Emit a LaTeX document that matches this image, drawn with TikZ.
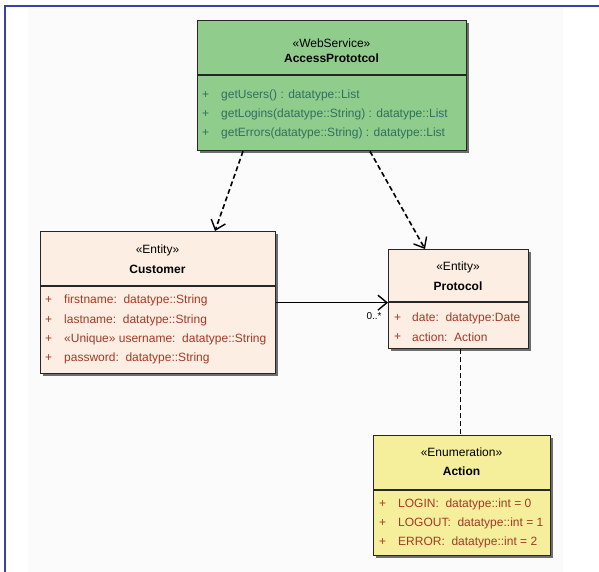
\documentclass[tikz,border=0pt]{standalone}
\usepackage{fontspec}
\setmainfont{Liberation Sans}
\usetikzlibrary{arrows.meta,calc}
\definecolor{frameblue}{HTML}{3B3FA8}
\definecolor{wsgreen}{HTML}{90CD8C}
\definecolor{entpeach}{HTML}{FCEEE2}
\definecolor{enumyellow}{HTML}{F5EF9C}
\definecolor{wstext}{HTML}{2F6F62}
\definecolor{enttext}{HTML}{A33A26}
\definecolor{shadowgray}{HTML}{6E6E6E}
\tikzset{
  umlbox/.style={draw=black!85, line width=1.3pt, anchor=north west, inner sep=0pt},
  txt/.style={inner sep=0pt, font=\fontsize{12}{13}\selectfont},
  stereo/.style={txt, anchor=center},
  cname/.style={txt, anchor=center, font=\fontsize{12}{13}\selectfont\bfseries},
  attr/.style={txt, anchor=west},
  dep/.style={line width=1.6pt, dash pattern=on 5pt off 3pt, -{Straight Barb[length=9pt,width=15pt,line width=1.4pt]}},
  assoc/.style={line width=1.5pt, -{Straight Barb[length=9pt,width=15pt,line width=1.4pt]}},
  divider/.style={black!85, line width=1.3pt}
}
\begin{document}
\begin{tikzpicture}[x=1pt,y=-1pt]
\useasboundingbox (0,0) rectangle (599,572);
\fill[white] (0,0) rectangle (599,572);
\fill[black!1.5] (28,8) rectangle (563,572);
\draw[frameblue, line width=1.4pt] (5,572) -- (5,6) -- (599,6);

% shadows
\fill[shadowgray] (200,23) rectangle (469,153);
\fill[shadowgray] (43,234) rectangle (278,376);
\fill[shadowgray] (391,252) rectangle (531,351);
\fill[shadowgray] (376,438) rectangle (553,558);

% AccessPrototcol
\node[umlbox, fill=wsgreen, minimum width=269pt, minimum height=130pt] (access) at (197,20) {};
\draw[divider] (access.north west |- 0,75) -- (access.north east |- 0,75);
\node[stereo] (accessst) at (331.5,43) {«WebService»};
\node[cname] (accessnm) at (331.5,58) {AccessPrototcol};
\node[attr, text=wstext] (ap1) at (202,95) {+};
\node[attr, text=wstext] (ap2) at (202,114) {+};
\node[attr, text=wstext] (ap3) at (202,133) {+};
\node[attr, text=wstext] (aa1) at (221,95) {getUsers() : datatype::List};
\node[attr, text=wstext] (aa2) at (221,114) {getLogins(datatype::String) : datatype::List};
\node[attr, text=wstext] (aa3) at (221,133) {getErrors(datatype::String) : datatype::List};

% Customer
\node[umlbox, fill=entpeach, minimum width=235pt, minimum height=142pt] (customer) at (40,231) {};
\draw[divider] (customer.north west |- 0,286) -- (customer.north east |- 0,286);
\node[stereo] (custst) at (157.5,250) {«Entity»};
\node[cname] (custnm) at (157.5,269) {Customer};
\node[attr, text=enttext] (cp1) at (45,300) {+};
\node[attr, text=enttext] (cp2) at (45,320) {+};
\node[attr, text=enttext] (cp3) at (45,339) {+};
\node[attr, text=enttext] (cp4) at (45,358) {+};
\node[attr, text=enttext] (ca1) at (64,300) {firstname:\ \ datatype::String};
\node[attr, text=enttext] (ca2) at (64,320) {lastname:\ \ datatype::String};
\node[attr, text=enttext] (ca3) at (64,339) {«Unique» username:\ \ datatype::String};
\node[attr, text=enttext] (ca4) at (64,358) {password:\ \ datatype::String};

% Protocol
\node[umlbox, fill=entpeach, minimum width=140pt, minimum height=99pt] (protocol) at (388,249) {};
\draw[divider] (protocol.north west |- 0,302) -- (protocol.north east |- 0,302);
\node[stereo] (protst) at (458,267) {«Entity»};
\node[cname] (protnm) at (458,286) {Protocol};
\node[attr, text=enttext] (pp1) at (394,318) {+};
\node[attr, text=enttext] (pp2) at (394,337) {+};
\node[attr, text=enttext] (pa1) at (412,318) {date:\ \ datatype:Date};
\node[attr, text=enttext] (pa2) at (412,337) {action:\ \ Action};

% Action
\node[umlbox, fill=enumyellow, minimum width=177pt, minimum height=120pt] (action) at (373,435) {};
\draw[divider] (action.north west |- 0,490) -- (action.north east |- 0,490);
\node[stereo] (actst) at (461.5,452) {«Enumeration»};
\node[cname] (actnm) at (461.5,471) {Action};
\node[attr, text=enttext] (xp1) at (379,504) {+};
\node[attr, text=enttext] (xp2) at (379,523) {+};
\node[attr, text=enttext] (xp3) at (379,542) {+};
\node[attr, text=enttext] (xa1) at (398,504) {LOGIN:\ \ datatype::int = 0};
\node[attr, text=enttext] (xa2) at (398,523) {LOGOUT:\ \ datatype::int = 1};
\node[attr, text=enttext] (xa3) at (398,542) {ERROR:\ \ datatype::int = 2};

% connectors
\draw[dep] ($(access.south west)+(46,0)$) -- ($(customer.north west)+(175,0)$);
\draw[dep] ($(access.south west)+(173,0)$) -- ($(protocol.north west)+(37,0)$);
\draw[assoc] (customer.east) -- (customer.east -| protocol.west);
\node[txt, anchor=center, font=\fontsize{10}{11}\selectfont] (mult) at (374,316) {0..*};
\coordinate (dtop) at ($(protocol.south)+(2,0)$);
\draw[line width=1.6pt, dash pattern=on 5pt off 3pt] (dtop) -- (dtop |- action.north);
\end{tikzpicture}
\end{document}
